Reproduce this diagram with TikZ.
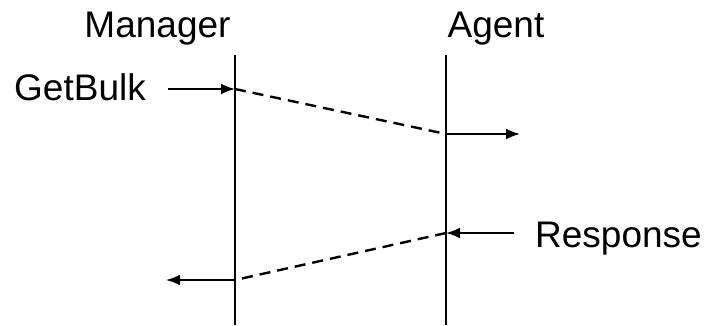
\documentclass[tikz,border=0pt]{standalone}
\usepackage{fontspec}
\setmainfont{Liberation Sans}
\usetikzlibrary{arrows.meta}
\begin{document}
\begin{tikzpicture}[x=1pt,y=1pt,
  lbl/.style={font=\fontsize{37}{44}\selectfont, inner sep=0pt},
  life/.style={line width=2pt},
  msg/.style={line width=2pt, -{Latex[length=14pt,width=11pt]}},
  dash line/.style={line width=2.4pt, dash pattern=on 11pt off 7pt}]
\useasboundingbox (0,0) rectangle (706,325);
% labels
\node[lbl, anchor=base] (mgr) at (157.5,288) {Manager};
\node[lbl, anchor=base] (agt) at (496,288) {Agent};
\node[lbl, anchor=base west] (gb) at (14,225) {GetBulk};
\node[lbl, anchor=base west] (resp) at (535,78) {Response};
% lifelines
\coordinate (m1) at (235,270);
\coordinate (m2) at (235,0);
\coordinate (a1) at (446,270);
\coordinate (a2) at (446,0);
\draw[life] (m1) -- (m2);
\draw[life] (a1) -- (a2);
% points
\coordinate (p1s) at (168,236);
\coordinate (p1) at (235,236);
\coordinate (p2) at (446,191);
\coordinate (p2e) at (520,191);
\coordinate (p3s) at (514,92);
\coordinate (p3) at (446,92);
\coordinate (p4) at (235,45);
\coordinate (p4e) at (166,45);
\draw[msg] (p1s) -- (p1);
\draw[dash line] (p1) -- (p2);
\draw[msg] (p2) -- (p2e);
\draw[msg] (p3s) -- (p3);
\draw[dash line] (p3) -- (p4);
\draw[msg] (p4) -- (p4e);
\end{tikzpicture}
\end{document}
